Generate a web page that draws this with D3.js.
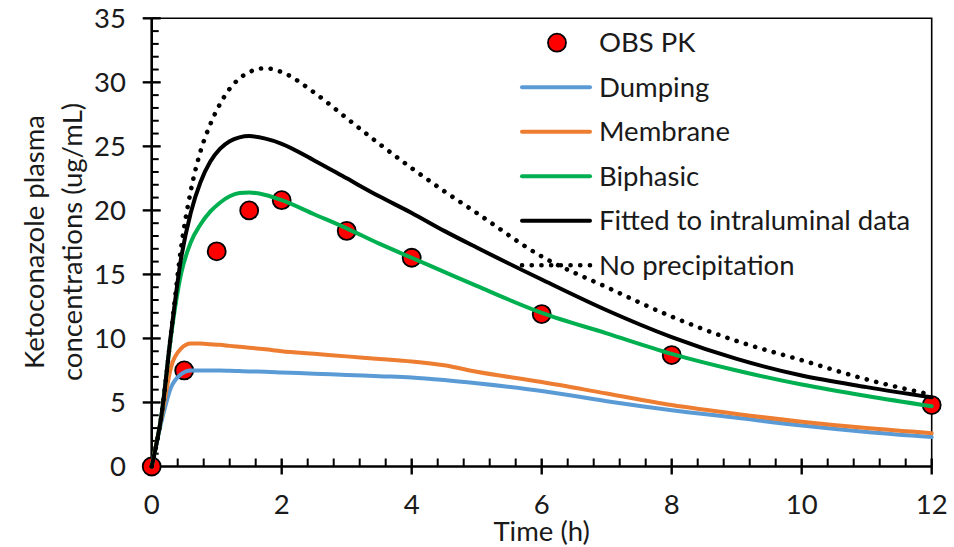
<!DOCTYPE html>
<html>
<head>
<meta charset="utf-8">
<script src="https://cdn.jsdelivr.net/npm/d3@7"></script>
<style>
  body { margin: 0; background: #fff; }
  text { font-family: Lato, "Open Sans", sans-serif; fill: #1a1a1a; }
</style>
</head>
<body>
<svg id="chart"></svg>
<script>
// observed PK
const obsTime = [0, 0.5, 1, 1.5, 2, 3, 4, 6, 8, 12];
const obsConc = [0, 7.5, 16.8, 20, 20.8, 18.4, 16.3, 11.9, 8.7, 4.8];

// simulated profiles, all on the same time grid
const simTime = [0, 0.15, 0.3, 0.45, 0.6, 0.75, 0.9, 1.05, 1.2, 1.35, 1.5, 1.75, 2, 2.5, 3, 3.5, 4, 4.5, 5, 6, 7, 8, 9, 10, 11, 12];
const dumping = [0, 3.5, 6.2, 7.2, 7.5, 7.5, 7.5, 7.5, 7.48, 7.45, 7.42, 7.4, 7.35, 7.25, 7.15, 7.05, 6.95, 6.75, 6.5, 5.9, 5.1, 4.4, 3.8, 3.2, 2.7, 2.3];
const membrane = [0, 3.8, 7.8, 9.2, 9.6, 9.6, 9.55, 9.5, 9.42, 9.35, 9.28, 9.15, 9.0, 8.8, 8.6, 8.4, 8.2, 7.9, 7.4, 6.6, 5.7, 4.8, 4.1, 3.5, 3.0, 2.6];
const biphasic = [0, 4, 10.3, 15, 17.5, 18.9, 19.9, 20.6, 21.1, 21.35, 21.4, 21.2, 20.8, 19.7, 18.6, 17.4, 16.3, 15.2, 14.1, 12.0, 10.4, 8.8, 7.5, 6.4, 5.5, 4.7];
const fitted = [0, 4, 10.5, 16.2, 19.8, 22.2, 23.8, 24.8, 25.4, 25.7, 25.8, 25.6, 25.2, 23.9, 22.5, 21.1, 19.8, 18.4, 17.1, 14.6, 12.2, 10.1, 8.4, 7.1, 6.2, 5.4];
const noPrecip = [0, 4, 10.5, 17, 21.5, 24.6, 26.7, 28.3, 29.5, 30.3, 30.8, 31.1, 30.8, 29.2, 27.2, 25.2, 23.3, 21.5, 19.8, 16.4, 14.0, 11.7, 9.8, 8.3, 6.8, 5.6];

const xTicks = [0, 2, 4, 6, 8, 10, 12];
const yTicks = [0, 5, 10, 15, 20, 25, 30, 35];

const width = 954;
const height = 547;
const font = 27.5;

const x = d3.scaleLinear().domain([0, 12]).range([151.7, 931.7]);
const y = d3.scaleLinear().domain([0, 35]).range([466.5, 18.3]);

const svg = d3.select("#chart").attr("width", width).attr("height", height);

const series = [
  { name: "Dumping", values: dumping, color: "#5B9BD5", dash: null },
  { name: "Membrane", values: membrane, color: "#ED7D31", dash: null },
  { name: "Biphasic", values: biphasic, color: "#00B050", dash: null },
  { name: "Fitted to intraluminal data", values: fitted, color: "#000", dash: null },
  { name: "No precipitation", values: noPrecip, color: "#000", dash: "0.1 9.6" },
];

// frame (top + right)
svg.append("path")
  .attr("d", `M${x(0)},${y(35)}H${x(12)}V${y(0)}`)
  .attr("fill", "none")
  .attr("stroke", "#000")
  .attr("stroke-width", 1.6);

// x axis
const xMinor = d3.range(0, 31).filter((i) => i % 5 !== 0).map((i) => i * 0.4);
const gx = svg.append("g");
gx.append("line")
  .attr("x1", x(0)).attr("x2", x(12))
  .attr("y1", y(0)).attr("y2", y(0))
  .attr("stroke", "#000").attr("stroke-width", 2.6);
gx.selectAll("line.major").data(xTicks).join("line")
  .attr("class", "major")
  .attr("x1", (d) => x(d)).attr("x2", (d) => x(d))
  .attr("y1", y(0) - 8).attr("y2", y(0) + 8)
  .attr("stroke", "#000").attr("stroke-width", 2.4);
gx.selectAll("line.minor").data(xMinor).join("line")
  .attr("class", "minor")
  .attr("x1", (d) => x(d)).attr("x2", (d) => x(d))
  .attr("y1", y(0) - 8).attr("y2", y(0))
  .attr("stroke", "#000").attr("stroke-width", 2);
gx.selectAll("text").data(xTicks).join("text")
  .attr("x", (d) => x(d))
  .attr("y", 514)
  .attr("text-anchor", "middle")
  .style("font-size", font + "px")
  .text((d) => d);

// y axis
const yMinor = d3.range(0, 36).filter((i) => i % 5 !== 0);
const gy = svg.append("g");
gy.append("line")
  .attr("x1", x(0)).attr("x2", x(0))
  .attr("y1", y(0)).attr("y2", y(35))
  .attr("stroke", "#000").attr("stroke-width", 2.6);
gy.selectAll("line.major").data(yTicks).join("line")
  .attr("class", "major")
  .attr("x1", x(0) - 9).attr("x2", x(0) + 9)
  .attr("y1", (d) => y(d)).attr("y2", (d) => y(d))
  .attr("stroke", "#000").attr("stroke-width", 2.4);
gy.selectAll("line.minor").data(yMinor).join("line")
  .attr("class", "minor")
  .attr("x1", x(0)).attr("x2", x(0) + 7)
  .attr("y1", (d) => y(d)).attr("y2", (d) => y(d))
  .attr("stroke", "#000").attr("stroke-width", 2);
gy.selectAll("text").data(yTicks).join("text")
  .attr("x", 126)
  .attr("y", (d) => y(d))
  .attr("dy", "0.35em")
  .attr("text-anchor", "end")
  .style("font-size", font + "px")
  .text((d) => d);

// axis titles
svg.append("text")
  .attr("x", x(6))
  .attr("y", 541)
  .attr("text-anchor", "middle")
  .style("font-size", font + "px")
  .text("Time (h)");

const yTitle = svg.append("text")
  .attr("transform", "translate(44,242) rotate(-90)")
  .attr("text-anchor", "middle")
  .style("font-size", font + "px");
yTitle.append("tspan").attr("x", 0).attr("y", 0).text("Ketoconazole plasma");
yTitle.append("tspan").attr("x", 0).attr("y", 38).text("concentrations (ug/mL)");

// observed points
svg.append("g")
  .selectAll("circle")
  .data(obsTime.map((t, i) => [t, obsConc[i]]))
  .join("circle")
  .attr("cx", (d) => x(d[0]))
  .attr("cy", (d) => y(d[1]))
  .attr("r", 9)
  .attr("fill", "#FF0000")
  .attr("stroke", "#000")
  .attr("stroke-width", 1.8);

// simulated lines
const line = d3.line()
  .x((d) => x(d[0]))
  .y((d) => y(d[1]))
  .curve(d3.curveMonotoneX);

svg.append("g")
  .selectAll("path")
  .data(series)
  .join("path")
  .attr("d", (s) => line(simTime.map((t, i) => [t, s.values[i]])))
  .attr("fill", "none")
  .attr("stroke", (s) => s.color)
  .attr("stroke-width", (s) => (s.dash ? 4.6 : 4))
  .attr("stroke-linecap", "round")
  .attr("stroke-linejoin", "round")
  .attr("stroke-dasharray", (s) => s.dash);

// legend
const legendX = 522;
const legendTop = 42.7;
const rowGap = 44.5;
const legend = svg.append("g");

legend.append("circle")
  .attr("cx", 557)
  .attr("cy", legendTop)
  .attr("r", 9)
  .attr("fill", "#FF0000")
  .attr("stroke", "#000")
  .attr("stroke-width", 1.8);
legend.append("text")
  .attr("x", 599)
  .attr("y", legendTop)
  .attr("dy", "0.35em")
  .style("font-size", font + "px")
  .text("OBS PK");

const rows = legend.selectAll("g.row")
  .data(series)
  .join("g")
  .attr("class", "row")
  .attr("transform", (d, i) => `translate(0,${legendTop + rowGap * (i + 1)})`);
rows.append("line")
  .attr("x1", legendX).attr("x2", 590)
  .attr("stroke", (s) => s.color)
  .attr("stroke-width", (s) => (s.dash ? 4.6 : 4))
  .attr("stroke-linecap", "round")
  .attr("stroke-dasharray", (s) => s.dash);
rows.append("text")
  .attr("x", 599)
  .attr("dy", "0.35em")
  .style("font-size", font + "px")
  .text((s) => s.name);
</script>
</body>
</html>
